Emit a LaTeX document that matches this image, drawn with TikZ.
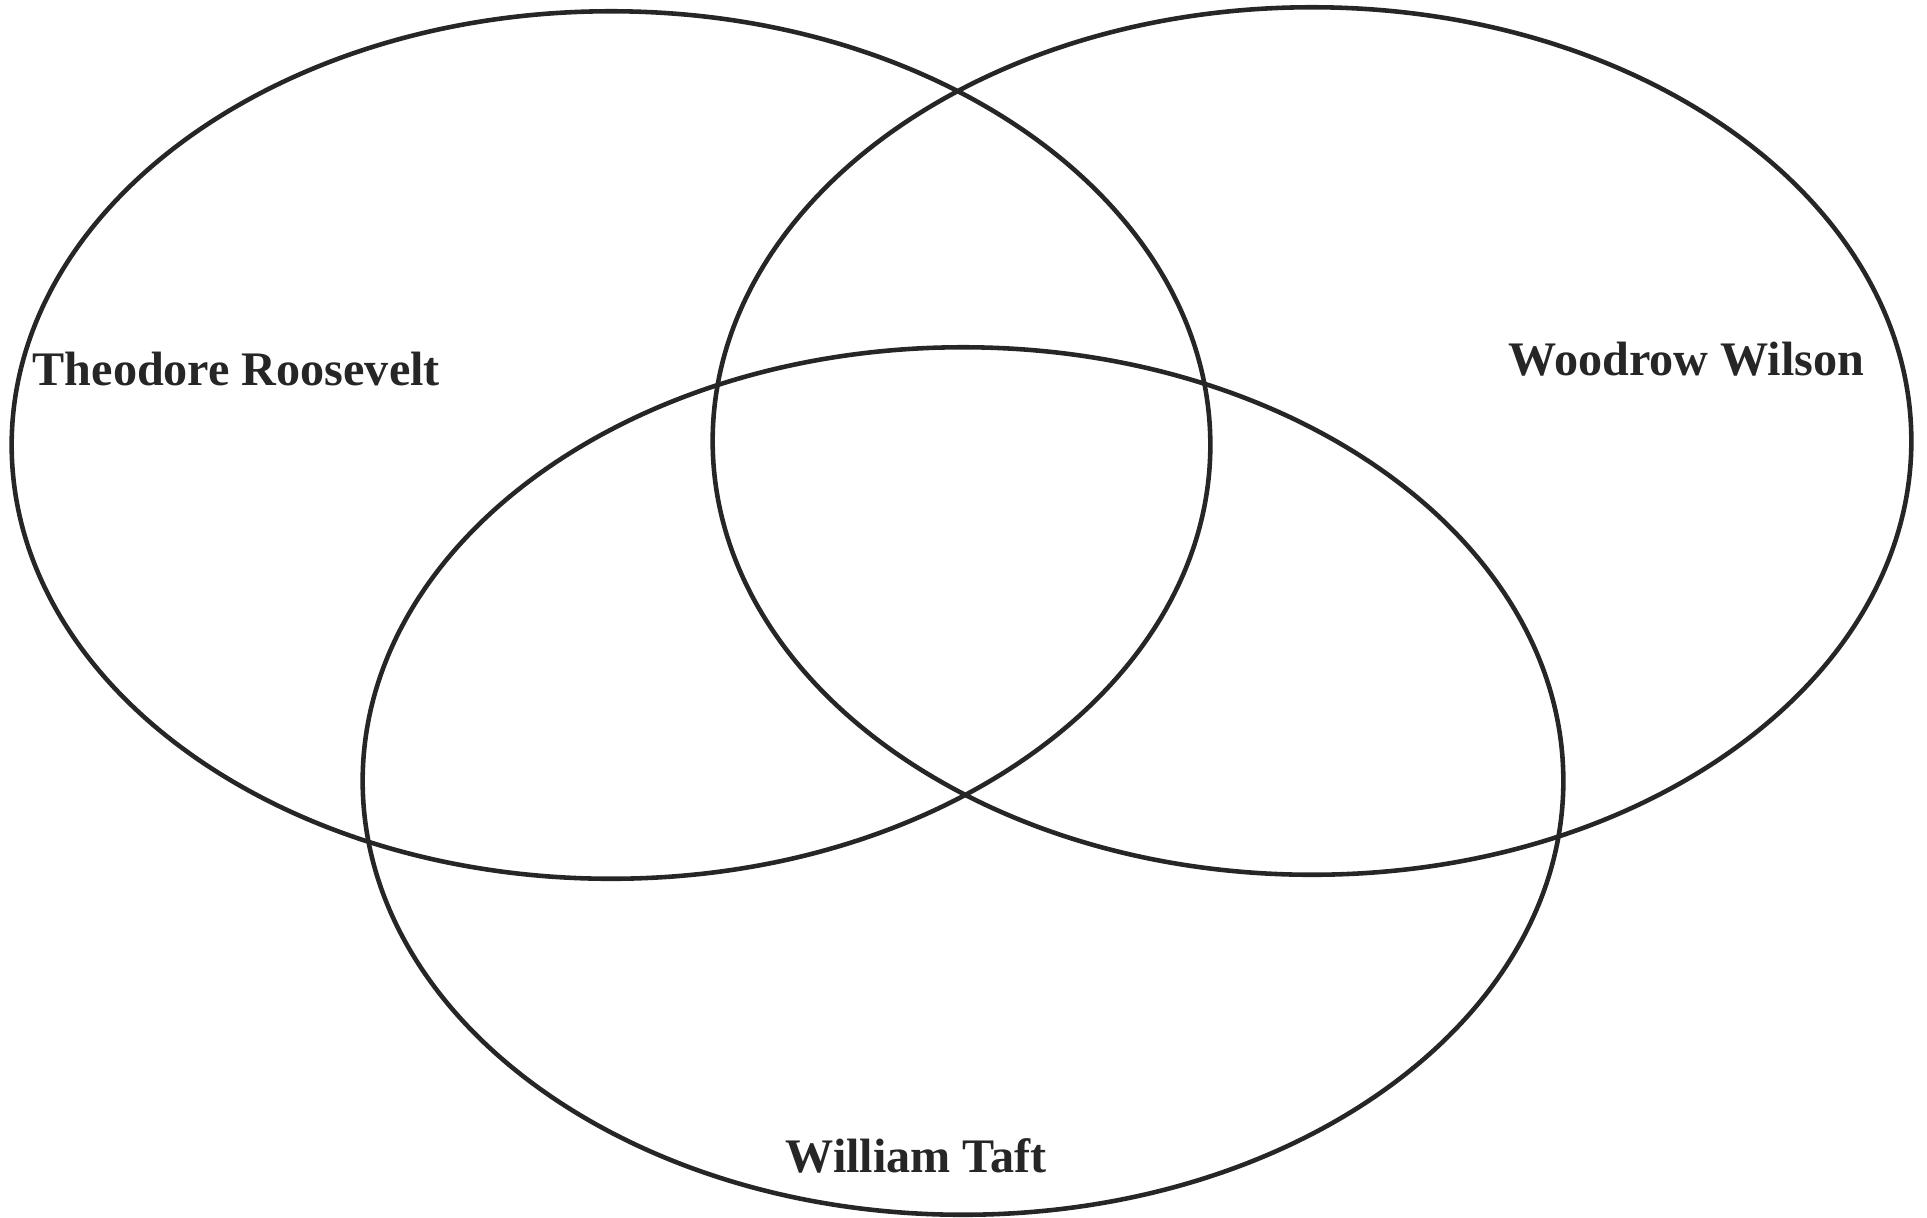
\documentclass[tikz,border=0pt]{standalone}
\usepackage{fontspec}
\setmainfont{Liberation Serif}
\usepackage{tikz}
\usetikzlibrary{shapes.geometric}

\begin{document}
\begin{tikzpicture}[x=0.01cm,y=-0.01cm]
\tikzstyle{setring}=[draw=black!85,line width=1.3pt,ellipse,inner sep=0pt,minimum width=11.98cm,minimum height=8.67cm]
\tikzstyle{setname}=[anchor=base west,inner sep=0pt,text=black!85,font=\fontsize{13.7}{16}\selectfont\bfseries]
\useasboundingbox (0,0) rectangle (1927,1217);
% the three sets
\node[setring] (roosevelt) at (611,445) {};
\node[setring] (wilson) at (1312,441) {};
\node[setring,minimum width=12cm] (taft) at (963,781) {};
% names
\node[setname] (rname) at (32,385) {Theodore Roosevelt};
\node[setname] (wname) at (1508,375) {Woodrow Wilson};
\node[setname] (tname) at (785,1172) {William Taft};
\end{tikzpicture}
\end{document}
